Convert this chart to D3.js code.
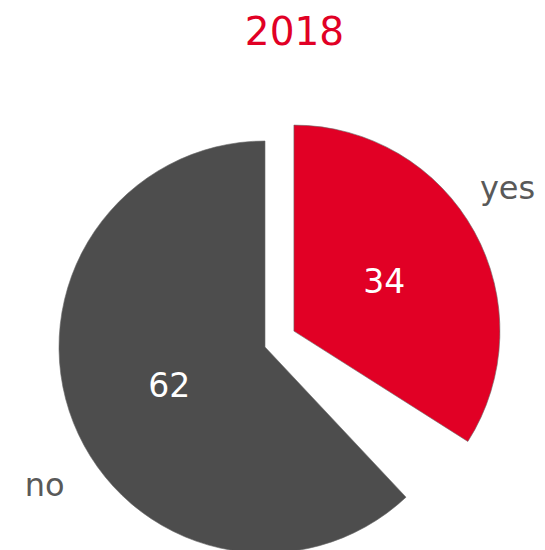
<!DOCTYPE html>
<html>
<head>
<meta charset="utf-8">
<script src="https://cdn.jsdelivr.net/npm/d3@7"></script>
<style>
  html, body { margin: 0; padding: 0; background: #fff; }
  svg { display: block; }
  text { font-family: "DejaVu Sans", Verdana, sans-serif; }
</style>
</head>
<body>
<script>
// ---- data ----
const title = "2018";
const categories = ["yes", "other", "no"];
const values = [34, 4, 62];
const shownLabels = ["yes", "no"];
const valueLabels = ["34", "", "62"];

// ---- styling / layout ----
const W = 545, H = 550;
const cx = 265, cy = 347, R = 206;
const explode = { yes: 33 };
const colors = { yes: "#E10025", other: "none", no: "#4D4D4D" };
const labelNudge = { yes: [-12, -20], no: [19, 43] };

const svg = d3.select("body").append("svg").attr("width", W).attr("height", H);

svg.append("text")
  .attr("x", 294.5).attr("y", 45)
  .attr("text-anchor", "middle")
  .attr("font-size", 39)
  .attr("fill", "#E10025")
  .text(title);

const data = categories.map((c, i) => ({ cat: c, value: values[i], label: valueLabels[i] }));
const pie = d3.pie().sort(null).value(d => d.value);
const arcs = pie(data);
const arc = d3.arc().innerRadius(0).outerRadius(R);
const labelArc = d3.arc().innerRadius(R * 0.5).outerRadius(R * 0.5);
const outerArc = d3.arc().innerRadius(R * 1.25).outerRadius(R * 1.25);

const g = svg.append("g").attr("transform", `translate(${cx},${cy})`);

const slices = g.selectAll("g.slice").data(arcs).join("g")
  .attr("class", "slice")
  .attr("transform", d => {
    const off = explode[d.data.cat] || 0;
    const mid = (d.startAngle + d.endAngle) / 2;
    return `translate(${off * Math.sin(mid)},${-off * Math.cos(mid)})`;
  });

slices.append("path")
  .attr("d", arc)
  .attr("fill", d => colors[d.data.cat])
  .attr("stroke", d => d.data.cat === "other" ? "none" : "#6a6a6a")
  .attr("stroke-width", 0.6);

slices.filter(d => d.data.label)
  .append("text")
  .attr("transform", d => `translate(${labelArc.centroid(d)})`)
  .attr("text-anchor", "middle")
  .attr("dy", "0.36em")
  .attr("font-size", 33)
  .attr("fill", "#ffffff")
  .text(d => d.data.label);

slices.filter(d => shownLabels.includes(d.data.cat))
  .append("text")
  .attr("transform", d => {
    const [x, y] = outerArc.centroid(d);
    const n = labelNudge[d.data.cat] || [0, 0];
    return `translate(${x + n[0]},${y + n[1]})`;
  })
  .attr("text-anchor", "middle")
  .attr("dy", "0.36em")
  .attr("font-size", 32)
  .attr("fill", "#595959")
  .text(d => d.data.cat);
</script>
</body>
</html>
